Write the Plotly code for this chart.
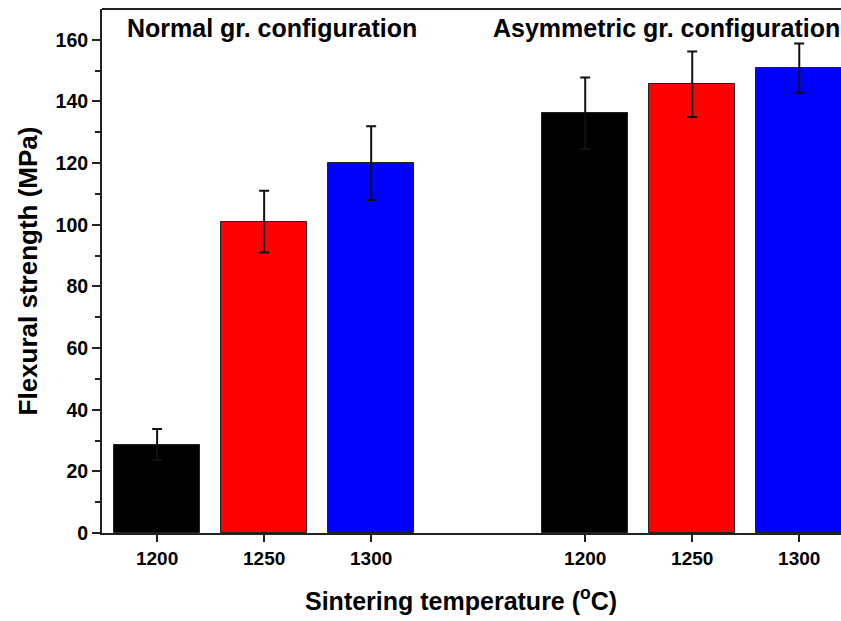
import plotly.graph_objects as go

temperatures = ["1200", "1250", "1300"]
groups = ["Normal gr. configuration", "Asymmetric gr. configuration"]
normal_strength = [28.7, 101.0, 120.0]
normal_error = [5.0, 10.0, 12.0]
asym_strength = [136.2, 145.6, 150.8]
asym_error = [11.6, 10.6, 8.0]
bar_colors = ["#000000", "#ff0000", "#0000ff"]
y_ticks = [0, 20, 40, 60, 80, 100, 120, 140, 160]
y_minor = [10, 30, 50, 70, 90, 110, 130, 150]

FONT = "Liberation Sans, Arial, sans-serif"

fig = go.Figure()
series = [(normal_strength, normal_error), (asym_strength, asym_error)]
tickvals, ticktext = [], []
for gi, (vals, errs) in enumerate(series):
    xs = [gi * 4 + i + 1 for i in range(len(temperatures))]
    tickvals += xs
    ticktext += temperatures
    fig.add_trace(go.Bar(
        x=xs, y=vals, width=0.8,
        marker=dict(color=bar_colors, line=dict(color="#222222", width=1)),
        error_y=dict(type="data", array=errs, visible=True, color="#111111",
                     thickness=2, width=5),
        showlegend=False,
    ))

fig.add_annotation(x=0.70, y=163.8, xref="x", yref="y", text="<b>" + groups[0] + "</b>",
                   showarrow=False, xanchor="left", yanchor="middle",
                   font=dict(family=FONT, size=25, color="black"))
fig.add_annotation(x=4.12, y=163.8, xref="x", yref="y", text="<b>" + groups[1] + "</b>",
                   showarrow=False, xanchor="left", yanchor="middle",
                   font=dict(family=FONT, size=25, color="black"))
# x-axis title
fig.add_annotation(x=0.486, y=-0.125, xref="paper", yref="paper",
                   text="<b>Sintering temperature (<sup>o</sup>C)</b>",
                   showarrow=False, xanchor="center", yanchor="middle",
                   font=dict(family=FONT, size=25, color="black"))

# top frame line
fig.add_shape(type="line", xref="paper", yref="paper", x0=0, x1=1, y0=1, y1=1,
              line=dict(color="#222222", width=2))

fig.update_layout(
    width=841, height=621,
    margin=dict(l=102, r=0, t=9, b=88),
    paper_bgcolor="white", plot_bgcolor="white",
    font=dict(family=FONT, size=18, color="black"),
    bargap=0,
)
fig.update_xaxes(
    range=[0.485, 7.39], tickvals=tickvals, ticktext=["<b>%s</b>" % t for t in ticktext],
    showgrid=False, zeroline=False, showline=True, linecolor="#222222", linewidth=2,
    ticks="outside", ticklen=7, tickwidth=2, tickcolor="#222222",
    tickfont=dict(family=FONT, size=19),
)
fig.update_yaxes(
    range=[0, 170], tickvals=y_ticks,
    ticktext=["<b>%d</b>" % v for v in y_ticks],
    showgrid=False, zeroline=False, showline=True, linecolor="#222222", linewidth=2,
    ticks="outside", ticklen=8, tickwidth=2, tickcolor="#222222",
    tickfont=dict(family=FONT, size=19.5),
    minor=dict(tickvals=y_minor, ticks="outside", ticklen=5,
               tickwidth=2, tickcolor="#222222"),
    title=dict(text="<b>Flexural strength (MPa)</b>", standoff=10,
               font=dict(family=FONT, size=26)),
)

fig.write_html("out.html")
